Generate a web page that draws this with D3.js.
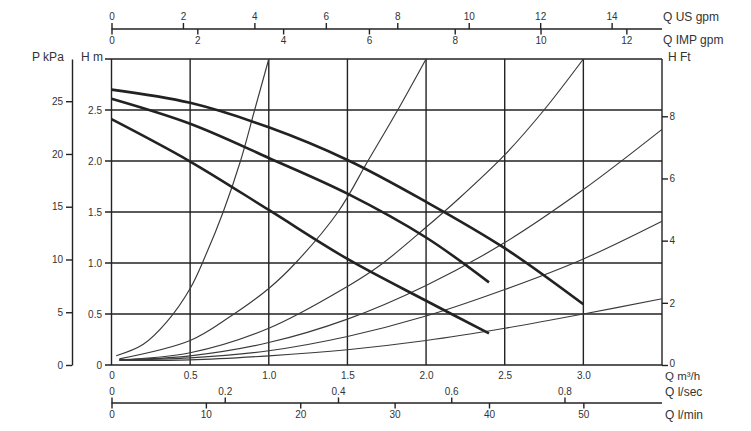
<!DOCTYPE html>
<html><head><meta charset="utf-8">
<script src="https://cdn.jsdelivr.net/npm/d3@7"></script>
<style>
html,body{margin:0;padding:0;background:#fff;}
svg text{font-family:"Liberation Sans",Arial,sans-serif;fill:#333;}
</style></head>
<body><svg id="c" width="751" height="431"></svg>
<script>
// ---- data ----
const qTicks = [0, 0.5, 1.0, 1.5, 2.0, 2.5, 3.0];
const hTicks = [0, 0.5, 1.0, 1.5, 2.0, 2.5];
const kpaTicks = [0, 5, 10, 15, 20, 25];
const ftTicks = [0, 2, 4, 6, 8];
const usGpmTicks = [0, 2, 4, 6, 8, 10, 12, 14];
const impGpmTicks = [0, 2, 4, 6, 8, 10, 12];
const lsecTicks = [0, 0.2, 0.4, 0.6, 0.8];
const lminTicks = [0, 10, 20, 30, 40, 50];

// pump curves  [Q m3/h, H m]
const pumpHigh = [[0,2.70],[0.5,2.57],[1.0,2.33],[1.5,2.01],[2.0,1.60],[2.5,1.145],[3.0,0.595]];
const pumpMid  = [[0,2.61],[0.5,2.365],[1.0,2.03],[1.5,1.68],[2.0,1.25],[2.4,0.81]];
const pumpLow  = [[0,2.41],[0.5,1.995],[1.0,1.52],[1.5,1.04],[2.0,0.63],[2.4,0.31]];
// system curves
const sys1 = [[0.03,0.09],[0.2,0.2],[0.35,0.42],[0.5,0.75],[0.6,1.08],[0.71,1.5],[0.82,2.0],[0.91,2.5],[1.0,3.0]];
const sys2 = [[0.05,0.06],[0.5,0.24],[0.75,0.47],[1.0,0.75],[1.17,1.0],[1.44,1.5],[1.63,2.0],[1.82,2.5],[2.0,3.0]];
const sys3 = [[0.05,0.05],[0.5,0.12],[1.0,0.36],[1.5,0.77],[1.71,0.98],[2.0,1.35],[2.2,1.62],[2.5,2.06],[2.75,2.5],[3.0,3.0]];
const sys4 = [[0.05,0.05],[0.5,0.09],[1.0,0.22],[1.5,0.45],[2.0,0.78],[2.5,1.2],[3.0,1.72],[3.5,2.31]];
const sys5 = [[0.05,0.05],[0.5,0.07],[1.0,0.14],[1.5,0.28],[2.0,0.48],[2.5,0.74],[3.0,1.04],[3.5,1.41]];
const sys6 = [[0.05,0.045],[0.5,0.05],[1.0,0.09],[1.5,0.15],[2.0,0.24],[2.5,0.36],[3.0,0.5],[3.5,0.65]];

const pumpCurves = [pumpHigh, pumpMid, pumpLow];
const systemCurves = [sys1, sys2, sys3, sys4, sys5, sys6];

// ---- scales ----
const L = 111.5, R = 662, T = 59, B = 365;
const x = d3.scaleLinear().domain([0, 3.5]).range([L, R]);
const y = d3.scaleLinear().domain([0, 3]).range([B, T]);
const yKpa = d3.scaleLinear().domain([0, 29]).range([B, T]);
const yFt = d3.scaleLinear().domain([0, 3 / 0.3048]).range([B, T]);
const xUs = d3.scaleLinear().domain([0, 3.5 * 4.403]).range([L, R]);
const xImp = d3.scaleLinear().domain([0, 3.5 * 3.666]).range([L, R]);
const xLs = d3.scaleLinear().domain([0, 3.5 / 3.6]).range([L, R]);
const xLm = d3.scaleLinear().domain([0, 3.5 / 0.06]).range([L, R]);

const svg = d3.select("#c");
const ink = "#222";

function styleAxis(g, fs) {
  g.selectAll("path.domain").attr("stroke", ink).attr("stroke-width", 1.4);
  g.selectAll(".tick line").attr("stroke", ink).attr("stroke-width", 1.4);
  g.selectAll("text").attr("font-size", fs || 10).attr("fill", "#333").attr("font-family", null);
}
const fmt1 = d => d === 0 ? "0" : d3.format(".1f")(d);

// ---- grid ----
const grid = svg.append("g");
grid.selectAll("line.h").data(d3.range(0, 3.01, 0.5)).join("line")
  .attr("x1", L - 6.5).attr("x2", R).attr("y1", d => y(d)).attr("y2", d => y(d))
  .attr("stroke", ink).attr("stroke-width", 1.4);
grid.selectAll("line.v").data(d3.range(0, 3.51, 0.5)).join("line")
  .attr("x1", d => x(d)).attr("x2", d => x(d)).attr("y1", T).attr("y2", B)
  .attr("stroke", ink).attr("stroke-width", 1.4);

// ---- curves ----
const line = d3.line().x(d => x(d[0])).y(d => y(d[1])).curve(d3.curveCatmullRom.alpha(0.5));
svg.append("g").selectAll("path").data(systemCurves).join("path")
  .attr("d", line).attr("fill", "none").attr("stroke", "#3a3a3a").attr("stroke-width", 1.15);
svg.append("g").selectAll("path").data(pumpCurves).join("path")
  .attr("d", line).attr("fill", "none").attr("stroke", "#222").attr("stroke-width", 2.6);

// ---- H m axis labels ----
const gH = svg.append("g").attr("transform", `translate(${L},0)`)
  .call(d3.axisLeft(y).tickValues(hTicks).tickFormat(fmt1).tickSize(0).tickPadding(9.5));
gH.select(".domain").remove();
styleAxis(gH);

// ---- kPa axis ----
const gK = svg.append("g").attr("transform", "translate(72,0)")
  .call(d3.axisLeft(yKpa).tickValues(kpaTicks).tickSizeInner(6).tickSizeOuter(0).tickPadding(3));
styleAxis(gK);

// ---- ft axis ----
const gF = svg.append("g").attr("transform", `translate(${R},0)`)
  .call(d3.axisRight(yFt).tickValues(ftTicks).tickSizeInner(6).tickSizeOuter(0).tickPadding(1.5));
gF.select(".domain").remove();
styleAxis(gF);
gF.selectAll(".tick text").filter(d => d === 0).attr("dy", "0.15em");

// ---- bottom m3/h labels ----
const gX = svg.append("g").attr("transform", `translate(0,${B})`)
  .call(d3.axisBottom(x).tickValues(qTicks).tickFormat(fmt1).tickSize(0).tickPadding(7));
gX.select(".domain").remove();
styleAxis(gX);

// ---- top gpm axes ----
const gUs = svg.append("g").attr("transform", "translate(0,29)")
  .call(d3.axisTop(xUs).tickValues(usGpmTicks).tickFormat(d3.format("d")).tickSizeInner(6).tickSizeOuter(0).tickPadding(3));
gUs.select(".domain").attr("d", `M${L},0H${R}`);
styleAxis(gUs);
const gImp = svg.append("g").attr("transform", "translate(0,29)")
  .call(d3.axisBottom(xImp).tickValues(impGpmTicks).tickFormat(d3.format("d")).tickSizeInner(5.5).tickSizeOuter(0).tickPadding(2));
gImp.select(".domain").remove();
styleAxis(gImp);

// ---- bottom flow axes ----
const gLs = svg.append("g").attr("transform", "translate(0,403)")
  .call(d3.axisTop(xLs).tickValues(lsecTicks).tickFormat(d => d === 0 ? "0" : d3.format(".1f")(d)).tickSizeInner(5.5).tickSizeOuter(0).tickPadding(3));
gLs.select(".domain").attr("d", `M${L},0H${R}`);
styleAxis(gLs);
const gLm = svg.append("g").attr("transform", "translate(0,403)")
  .call(d3.axisBottom(xLm).tickValues(lminTicks).tickFormat(d3.format("d")).tickSizeInner(5.5).tickSizeOuter(0).tickPadding(2));
gLm.select(".domain").remove();
styleAxis(gLm);

// ---- unit labels ----
const labels = [
  ["P kPa", 32, 60.5, "start", 12],
  ["H m", 81, 60.5, "start", 12],
  ["H Ft", 668, 60.5, "start", 12],
  ["Q US gpm", 663, 20.5, "start", 12],
  ["Q IMP gpm", 663, 43.5, "start", 12],
  ["Q m\u00B3/h", 665, 380, "start", 11.5],
  ["Q l/sec", 665, 395.5, "start", 12],
  ["Q l/min", 665, 418.5, "start", 12]
];
svg.append("g").selectAll("text").data(labels).join("text")
  .attr("x", d => d[1]).attr("y", d => d[2]).attr("text-anchor", d => d[3])
  .attr("font-size", d => d[4]).text(d => d[0]);
</script></body></html>
